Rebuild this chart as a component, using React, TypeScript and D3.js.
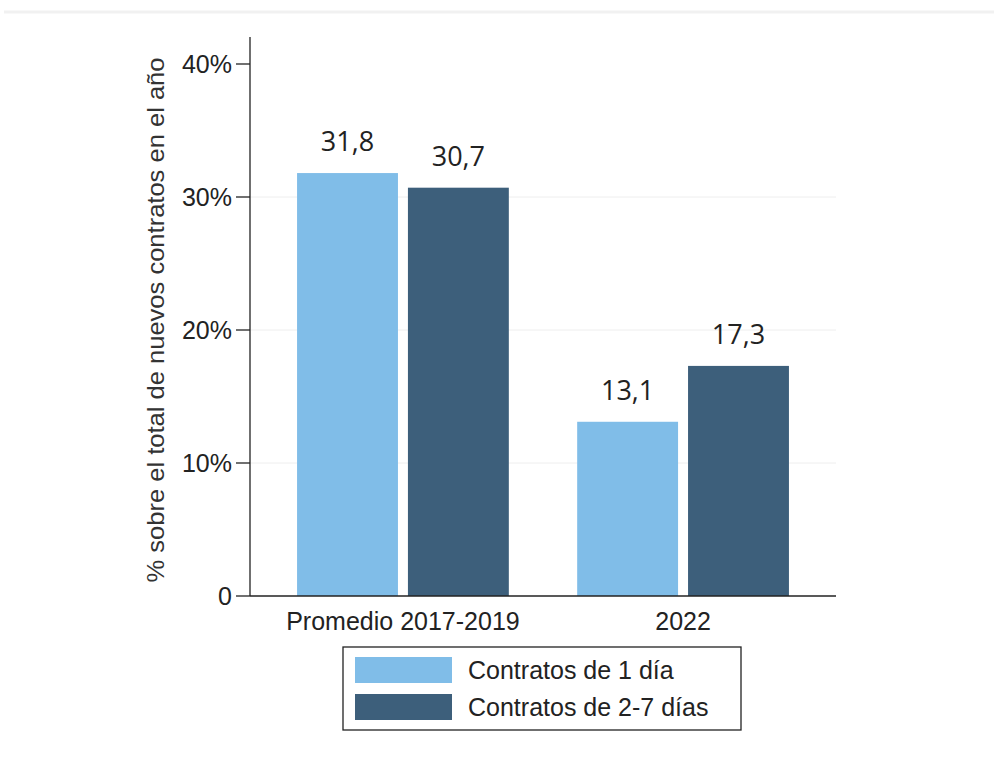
import * as d3 from 'd3'

const categories = ['Promedio 2017-2019', '2022']
const seriesNames = ['Contratos de 1 día', 'Contratos de 2-7 días']
const oneDay = [31.8, 13.1]
const twoToSeven = [30.7, 17.3]
const yTicks = [0, 10, 20, 30, 40]
const colors = ['#80bde8', '#3d5f7b']

export default function App() {
  const width = 994
  const height = 758
  const x0 = 250
  const x1 = 836

  const y = d3.scaleLinear().domain([0, 40]).range([596, 64])
  const xBand = d3.scaleBand().domain(categories).range([x0, x1]).paddingInner(0.244).paddingOuter(0.168)
  const xInner = d3.scaleBand().domain(['0', '1']).range([0, xBand.bandwidth()]).paddingInner(0.09)

  const values = [oneDay, twoToSeven]
  const fmt = (v: number) => v.toFixed(1).replace('.', ',')
  const arial = "'Liberation Sans', Arial, sans-serif"

  return (
    <svg width={width} height={height} style={{ position: 'absolute', left: 0, top: 0, background: '#fff' }}>
      <line x1={4} x2={994} y1={12} y2={12} stroke="#f1f1f1" strokeWidth={3} />
      {/* gridlines */}
      {yTicks.slice(1, 4).map((t) => (
        <line key={t} x1={x0} x2={x1} y1={y(t)} y2={y(t)} stroke="#eeeeee" strokeWidth={1} />
      ))}
      {/* bars */}
      {categories.map((c, i) =>
        values.map((s, j) => {
          const bx = (xBand(c) ?? 0) + (xInner(String(j)) ?? 0)
          return (
            <g key={c + j}>
              <rect x={bx} y={y(s[i])} width={xInner.bandwidth()} height={y(0) - y(s[i])} fill={colors[j]} />
              <text
                x={bx + xInner.bandwidth() / 2}
                y={y(s[i]) - 22}
                textAnchor="middle"
                fontFamily="'Open Sans', 'Noto Sans', sans-serif"
                fontSize={27}
                fill="#222"
              >
                {fmt(s[i])}
              </text>
            </g>
          )
        })
      )}
      {/* axes */}
      <line x1={x0} x2={x0} y1={37} y2={596} stroke="#222" strokeWidth={1.3} />
      <line x1={x0} x2={x1} y1={596} y2={596} stroke="#222" strokeWidth={1.3} />
      {yTicks.map((t) => (
        <g key={t}>
          <line x1={x0 - 14} x2={x0} y1={y(t)} y2={y(t)} stroke="#222" strokeWidth={1.3} />
          <text x={x0 - 18} y={y(t)} dy="0.36em" textAnchor="end" fontFamily={arial} fontSize={25} fill="#222">
            {t === 0 ? '0' : `${t}%`}
          </text>
        </g>
      ))}
      {categories.map((c) => (
        <text
          key={c}
          x={(xBand(c) ?? 0) + xBand.bandwidth() / 2}
          y={630}
          textAnchor="middle"
          fontFamily={arial}
          fontSize={25}
          fill="#222"
        >
          {c}
        </text>
      ))}
      <text
        transform={`translate(164,320) rotate(-90)`}
        textAnchor="middle"
        fontFamily={arial}
        fontSize={24}
        textLength={525}
        lengthAdjust="spacingAndGlyphs"
        fill="#333"
      >
        % sobre el total de nuevos contratos en el año
      </text>
      {/* legend */}
      <rect x={343} y={647} width={398} height={83} fill="#fff" stroke="#222" strokeWidth={1.3} />
      {seriesNames.map((n, j) => (
        <g key={n}>
          <rect x={355} y={657 + j * 37} width={97} height={26} fill={colors[j]} />
          <text x={468} y={679 + j * 37} fontFamily={arial} fontSize={25} fill="#222">
            {n}
          </text>
        </g>
      ))}
    </svg>
  )
}
